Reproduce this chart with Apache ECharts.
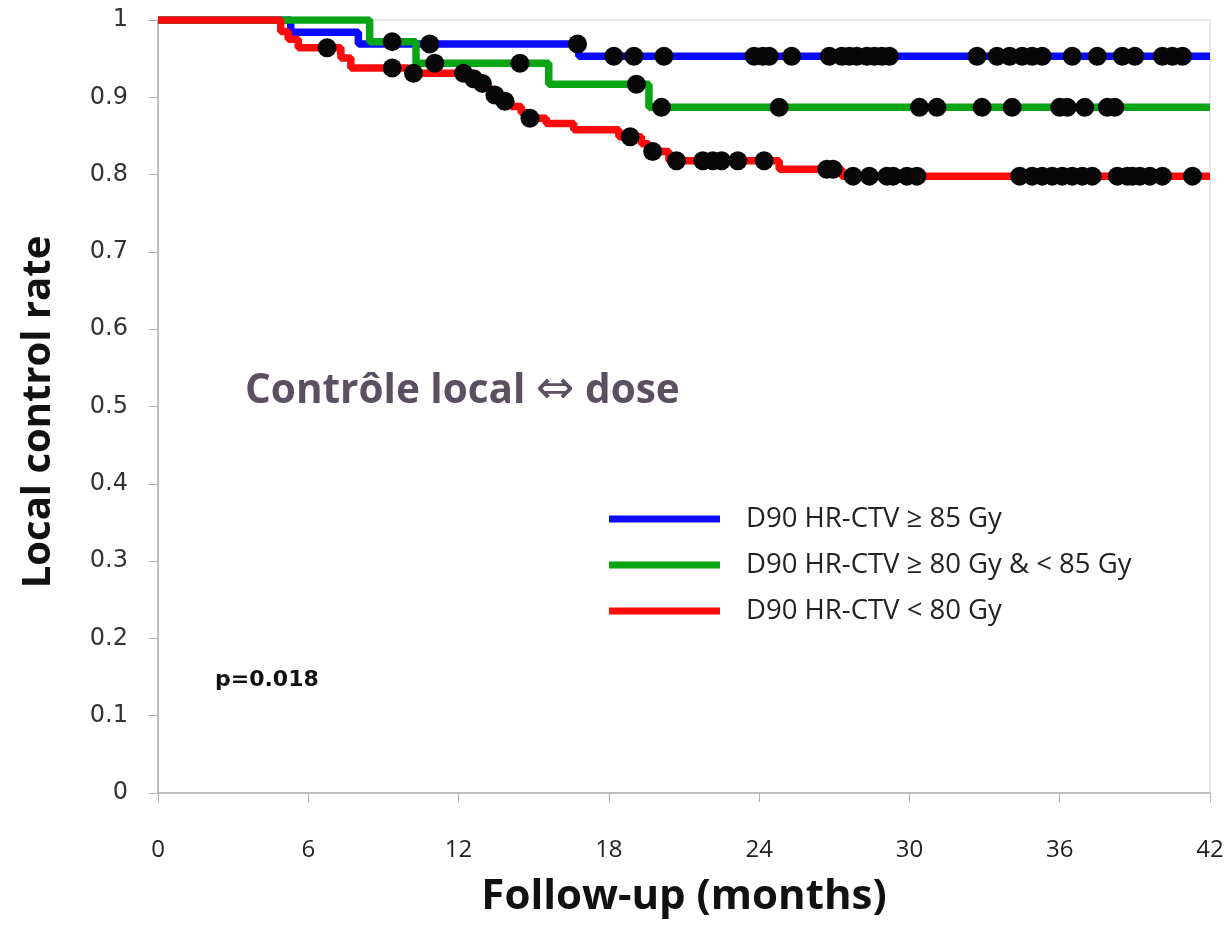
<!DOCTYPE html>
<html>
<head>
<meta charset="utf-8">
<script src="https://cdn.jsdelivr.net/npm/echarts@6/dist/echarts.min.js"></script>
<style>
  html, body { margin: 0; padding: 0; background: #fff; }
  #chart { width: 1232px; height: 926px; }
</style>
</head>
<body>
<div id="chart"></div>
<script>
// Kaplan-Meier local control by D90 HR-CTV dose group.
// Each step: [month, local control rate after the event].
const seriesNames = ['D90 HR-CTV ≥ 85 Gy', 'D90 HR-CTV ≥ 80 Gy & < 85 Gy', 'D90 HR-CTV < 80 Gy'];
const seriesColors = ['#0a0aff', '#0aa514', '#ff0a0a'];

const blueSteps = [[0, 1], [5.3, 0.984], [8.0, 0.969], [16.8, 0.953]];
const greenSteps = [[0, 1], [8.45, 0.972], [10.3, 0.944], [15.6, 0.917], [19.6, 0.887]];
const redSteps = [
  [0, 1], [4.9, 0.985], [5.2, 0.975], [5.6, 0.964], [7.3, 0.951], [7.7, 0.938],
  [10.0, 0.931], [12.5, 0.924], [12.8, 0.918], [13.1, 0.911], [13.35, 0.903],
  [13.7, 0.895], [14.1, 0.888], [14.5, 0.880], [14.8, 0.873], [15.5, 0.866],
  [16.6, 0.858], [18.4, 0.849], [19.3, 0.840], [19.6, 0.830], [20.4, 0.818],
  [24.8, 0.807], [27.3, 0.798]
];

// Censored observations (months)
const blueCensored = [10.85, 16.75, 18.2, 19.0, 20.2, 23.8, 24.15, 24.4, 25.3, 26.8, 27.3,
  27.6, 27.9, 28.3, 28.6, 28.9, 29.2, 32.7, 33.5, 34.0, 34.5, 34.9, 35.3, 36.5, 37.5,
  38.5, 39.0, 40.1, 40.5, 40.9];
const greenCensored = [9.35, 11.05, 14.45, 19.1, 20.1, 24.8, 30.4, 31.1, 32.9, 34.1, 36.0,
  36.3, 37.0, 37.9, 38.2];
const redCensored = [6.75, 9.35, 10.2, 12.2, 12.6, 12.95, 13.45, 13.85, 14.85, 18.85, 19.75,
  20.7, 21.75, 22.15, 22.5, 23.15, 24.2, 26.7, 26.95, 27.75, 28.4, 29.1, 29.35, 29.9,
  30.3, 34.4, 34.9, 35.3, 35.7, 36.1, 36.5, 36.9, 37.3, 38.3, 38.7, 38.9, 39.2, 39.6,
  40.1, 41.3];

const xTicks = [0, 6, 12, 18, 24, 30, 36, 42];
const followUpEnd = 42;

// Survival value in effect at time t
function valueAt(steps, t) {
  let v = steps[0][1];
  for (const s of steps) { if (s[0] <= t) v = s[1]; }
  return v;
}
function curve(steps) {
  return steps.concat([[followUpEnd, steps[steps.length - 1][1]]]);
}
function marks(steps, times) {
  return times.map(t => [t, valueAt(steps, t)]);
}

const allSteps = [blueSteps, greenSteps, redSteps];
const allCensored = [blueCensored, greenCensored, redCensored];

const lineSeries = allSteps.map((st, i) => ({
  name: seriesNames[i],
  type: 'line',
  step: 'end',
  data: curve(st),
  showSymbol: false,
  symbol: 'none',
  lineStyle: { color: seriesColors[i], width: 7.5 },
  itemStyle: { color: seriesColors[i] },
  z: 2 + i,
  animation: false
}));
const censorSeries = allSteps.map((st, i) => ({
  name: seriesNames[i] + ' censored',
  type: 'scatter',
  data: marks(st, allCensored[i]),
  symbol: 'circle',
  symbolSize: 19,
  itemStyle: { color: '#080808', opacity: 1 },
  z: 10,
  animation: false
}));

const chart = echarts.init(document.getElementById('chart'), null, { renderer: 'canvas' });
chart.setOption({
  backgroundColor: '#fff',
  animation: false,
  grid: {
    left: 158, right: 22, top: 20, bottom: 133,
    show: true, borderColor: '#d4d4d4', borderWidth: 1
  },
  xAxis: {
    type: 'value', min: 0, max: 42, interval: 6,
    axisLine: { lineStyle: { color: '#b0b0b0', width: 1.5 } },
    axisTick: { show: true, length: 9, inside: false, lineStyle: { color: '#b0b0b0' } },
    splitLine: { show: false },
    axisLabel: {
      margin: 45, color: '#222', fontSize: 24, fontFamily: 'Open Sans',
      verticalAlign: 'top', lineHeight: 24,
      formatter: v => (xTicks.indexOf(v) >= 0 ? String(v) : '')
    }
  },
  yAxis: {
    type: 'value', min: 0, max: 1, interval: 0.1,
    axisLine: { show: true, lineStyle: { color: '#b0b0b0', width: 1.5 } },
    axisTick: { show: true, length: 9, inside: false, lineStyle: { color: '#b0b0b0' } },
    splitLine: { show: false },
    axisLabel: {
      margin: 30, color: '#333', fontSize: 24, fontFamily: 'DejaVu Sans',
      formatter: v => (v === 0 ? '0' : (Math.abs(v - 1) < 1e-9 ? '1' : v.toFixed(1)))
    }
  },
  legend: {
    data: seriesNames,
    orient: 'vertical',
    left: 604, top: 499,
    icon: 'rect',
    itemWidth: 111, itemHeight: 7,
    itemGap: 16,
    textStyle: { fontFamily: 'Open Sans', fontSize: 27.5, color: '#222', lineHeight: 30, padding: [0, 0, 0, 21] },
    selectedMode: false
  },
  graphic: [
    {
      type: 'text', x: 39, y: 412, rotation: Math.PI / 2,
      style: { text: 'Local control rate', fontFamily: 'Open Sans', fontWeight: 'bold', fontSize: 40, fill: '#111', align: 'center', verticalAlign: 'middle' }
    },
    {
      type: 'text', x: 684, y: 897,
      style: { text: 'Follow-up (months)', fontFamily: 'Open Sans', fontWeight: 'bold', fontSize: 42, fill: '#111', align: 'center', verticalAlign: 'middle' }
    },
    {
      type: 'text', x: 245, y: 391,
      style: {
        text: '{t|Contrôle local }{a|⇔}{t| dose}',
        verticalAlign: 'middle', align: 'left',
        rich: {
          t: { fontFamily: 'Open Sans', fontWeight: 'bold', fontSize: 40.5, fill: '#5b5062' },
          a: { fontFamily: 'DejaVu Sans', fontSize: 46, fill: '#5b5062' }
        }
      }
    },
    {
      type: 'text', x: 215, y: 680,
      style: { text: 'p=0.018', fontFamily: 'DejaVu Sans', fontWeight: 'bold', fontSize: 22, fill: '#111', align: 'left', verticalAlign: 'middle' }
    }
  ],
  series: lineSeries.concat(censorSeries)
});
</script>
</body>
</html>
